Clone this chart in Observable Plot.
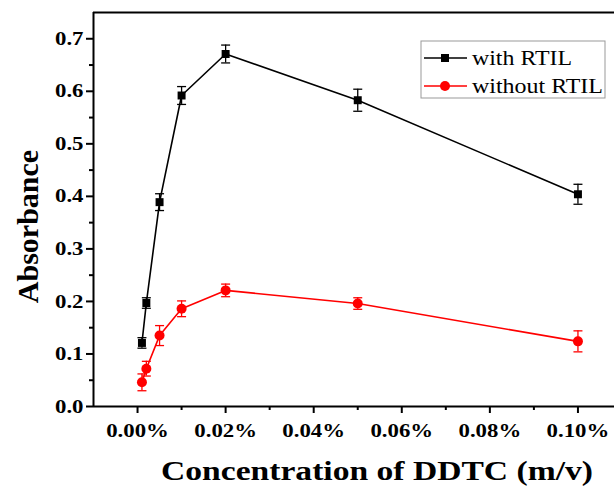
<!DOCTYPE html>
<html><head><meta charset="utf-8">
<script src="https://cdn.jsdelivr.net/npm/d3@7"></script>
<script src="https://cdn.jsdelivr.net/npm/@observablehq/plot@0.6"></script>
<style>
body{margin:0;background:#fff;}
#chart{position:relative;width:614px;height:486px;}
</style></head><body><div id="chart"></div>
<script>
const concentrations = [0.001, 0.002, 0.005, 0.01, 0.02, 0.05, 0.1];
const withRTIL = [0.121, 0.197, 0.389, 0.592, 0.671, 0.583, 0.404];
const withRTILErr = [0.010, 0.010, 0.016, 0.017, 0.017, 0.021, 0.019];
const withoutRTIL = [0.046, 0.072, 0.135, 0.186, 0.221, 0.196, 0.124];
const withoutRTILErr = [0.016, 0.014, 0.019, 0.015, 0.012, 0.011, 0.020];
const seriesNames = ["with RTIL", "without RTIL"];
const seriesColors = ["#000000", "#ff0000"];
const xTicks = [0, 0.02, 0.04, 0.06, 0.08, 0.10];
const xMinorTicks = [0.01, 0.03, 0.05, 0.07, 0.09];
const yTicks = [0, 0.1, 0.2, 0.3, 0.4, 0.5, 0.6, 0.7];
const yMinorTicks = [0.05, 0.15, 0.25, 0.35, 0.45, 0.55, 0.65];
const xLabel = "Concentration of DDTC (m/v)";
const yLabel = "Absorbance";

const rows = [];
concentrations.forEach((c, i) => {
  rows.push({series: seriesNames[0], x: c, y: withRTIL[i], e: withRTILErr[i]});
  rows.push({series: seriesNames[1], x: c, y: withoutRTIL[i], e: withoutRTILErr[i]});
});
const withRows = rows.filter(d => d.series === seriesNames[0]);
const withoutRows = rows.filter(d => d.series === seriesNames[1]);

const capSymbol = {draw(ctx, size) { const w = Math.sqrt(size / Math.PI); ctx.moveTo(-w, 0); ctx.lineTo(w, 0); }};
const serif = "'Liberation Serif', 'Times New Roman', serif";

const plot = Plot.plot({
  width: 614, height: 486,
  marginLeft: 93, marginRight: 0, marginTop: 12, marginBottom: 80,
  style: {background: "#fff", color: "#000", fontFamily: serif},
  x: {domain: [-0.01, 0.1083]},
  y: {domain: [0, 0.75]},
  color: {domain: seriesNames, range: seriesColors},
  marks: [
    Plot.axisX(xTicks, {tickSize: 7, tickPadding: 10, strokeWidth: 2, tickFormat: d => d.toFixed(2) + "%", fontSize: 19, fontWeight: "bold", label: null}),
    Plot.axisX(xMinorTicks, {tickSize: 4, strokeWidth: 2, tickFormat: () => "", label: null}),
    Plot.axisY(yTicks, {tickSize: 7, tickPadding: 3, strokeWidth: 2, tickFormat: d => d.toFixed(1), fontSize: 19, fontWeight: "bold", label: null}),
    Plot.axisY(yMinorTicks, {tickSize: 4, strokeWidth: 2, tickFormat: () => "", label: null}),
    Plot.ruleY([0], {strokeWidth: 2}),
    Plot.ruleY([0.75], {strokeWidth: 2}),
    Plot.ruleX([-0.01], {strokeWidth: 2}),
    Plot.line(rows, {x: "x", y: "y", z: "series", stroke: "series", strokeWidth: 1.6}),
    Plot.ruleX(rows, {x: "x", y1: d => d.y - d.e, y2: d => d.y + d.e, stroke: "series", strokeWidth: 1.3}),
    Plot.dot(rows, {x: "x", y: d => d.y + d.e, symbol: capSymbol, r: 4.5, fill: "none", stroke: "series", strokeWidth: 1.3}),
    Plot.dot(rows, {x: "x", y: d => d.y - d.e, symbol: capSymbol, r: 4.5, fill: "none", stroke: "series", strokeWidth: 1.3}),
    Plot.dot(withRows, {x: "x", y: "y", symbol: "square", r: 4.5, fill: seriesColors[0], stroke: null}),
    Plot.dot(withoutRows, {x: "x", y: "y", symbol: "circle", r: 5, fill: seriesColors[1], stroke: null}),
    Plot.text([xLabel], {frameAnchor: "bottom", textAnchor: "middle", lineAnchor: "bottom", dx: 23, dy: 73, text: d => d, fontSize: 27, fontWeight: "bold", className: "xtitle"}),
    Plot.text([yLabel], {frameAnchor: "left", textAnchor: "middle", lineAnchor: "bottom", dx: -56, dy: 17, rotate: -90, text: d => d, fontSize: 30, fontWeight: "bold"})
  ]
});
document.getElementById("chart").appendChild(plot);

// Legend
const svg = d3.select(plot);
const lg = svg.append("g").attr("class", "legend").attr("text-anchor", "start");
lg.append("rect").attr("x", 421).attr("y", 41).attr("width", 184).attr("height", 57)
  .attr("fill", "#fff").attr("stroke", "#999").attr("stroke-width", 1);
const rowsY = [58, 86];
const legendWidths = [100, 131];
seriesNames.forEach((name, i) => {
  const y = rowsY[i];
  lg.append("line").attr("x1", 424).attr("x2", 467).attr("y1", y).attr("y2", y)
    .attr("stroke", seriesColors[i]).attr("stroke-width", 1.6);
  if (i === 0) lg.append("rect").attr("x", 441).attr("y", y - 4).attr("width", 8).attr("height", 8).attr("fill", seriesColors[i]);
  else lg.append("circle").attr("cx", 445).attr("cy", y).attr("r", 5).attr("fill", seriesColors[i]);
  lg.append("text").attr("x", 472).attr("y", y + 7).attr("font-size", 21).attr("fill", "#000")
    .attr("font-family", serif).attr("text-anchor", "start")
    .attr("textLength", legendWidths[i]).attr("lengthAdjust", "spacingAndGlyphs").text(name);
});

// Horizontal stretch to match the reference's wide glyphs
plot.querySelectorAll("g[aria-label='x-axis tick label'] text, g[aria-label='y-axis tick label'] text").forEach(t => {
  const len = t.getComputedTextLength();
  if (len > 0) { t.setAttribute("textLength", len * 1.2); t.setAttribute("lengthAdjust", "spacingAndGlyphs"); }
});
plot.querySelectorAll(".xtitle text").forEach(t => {
  t.setAttribute("textLength", 432); t.setAttribute("lengthAdjust", "spacingAndGlyphs");
});
</script></body></html>
